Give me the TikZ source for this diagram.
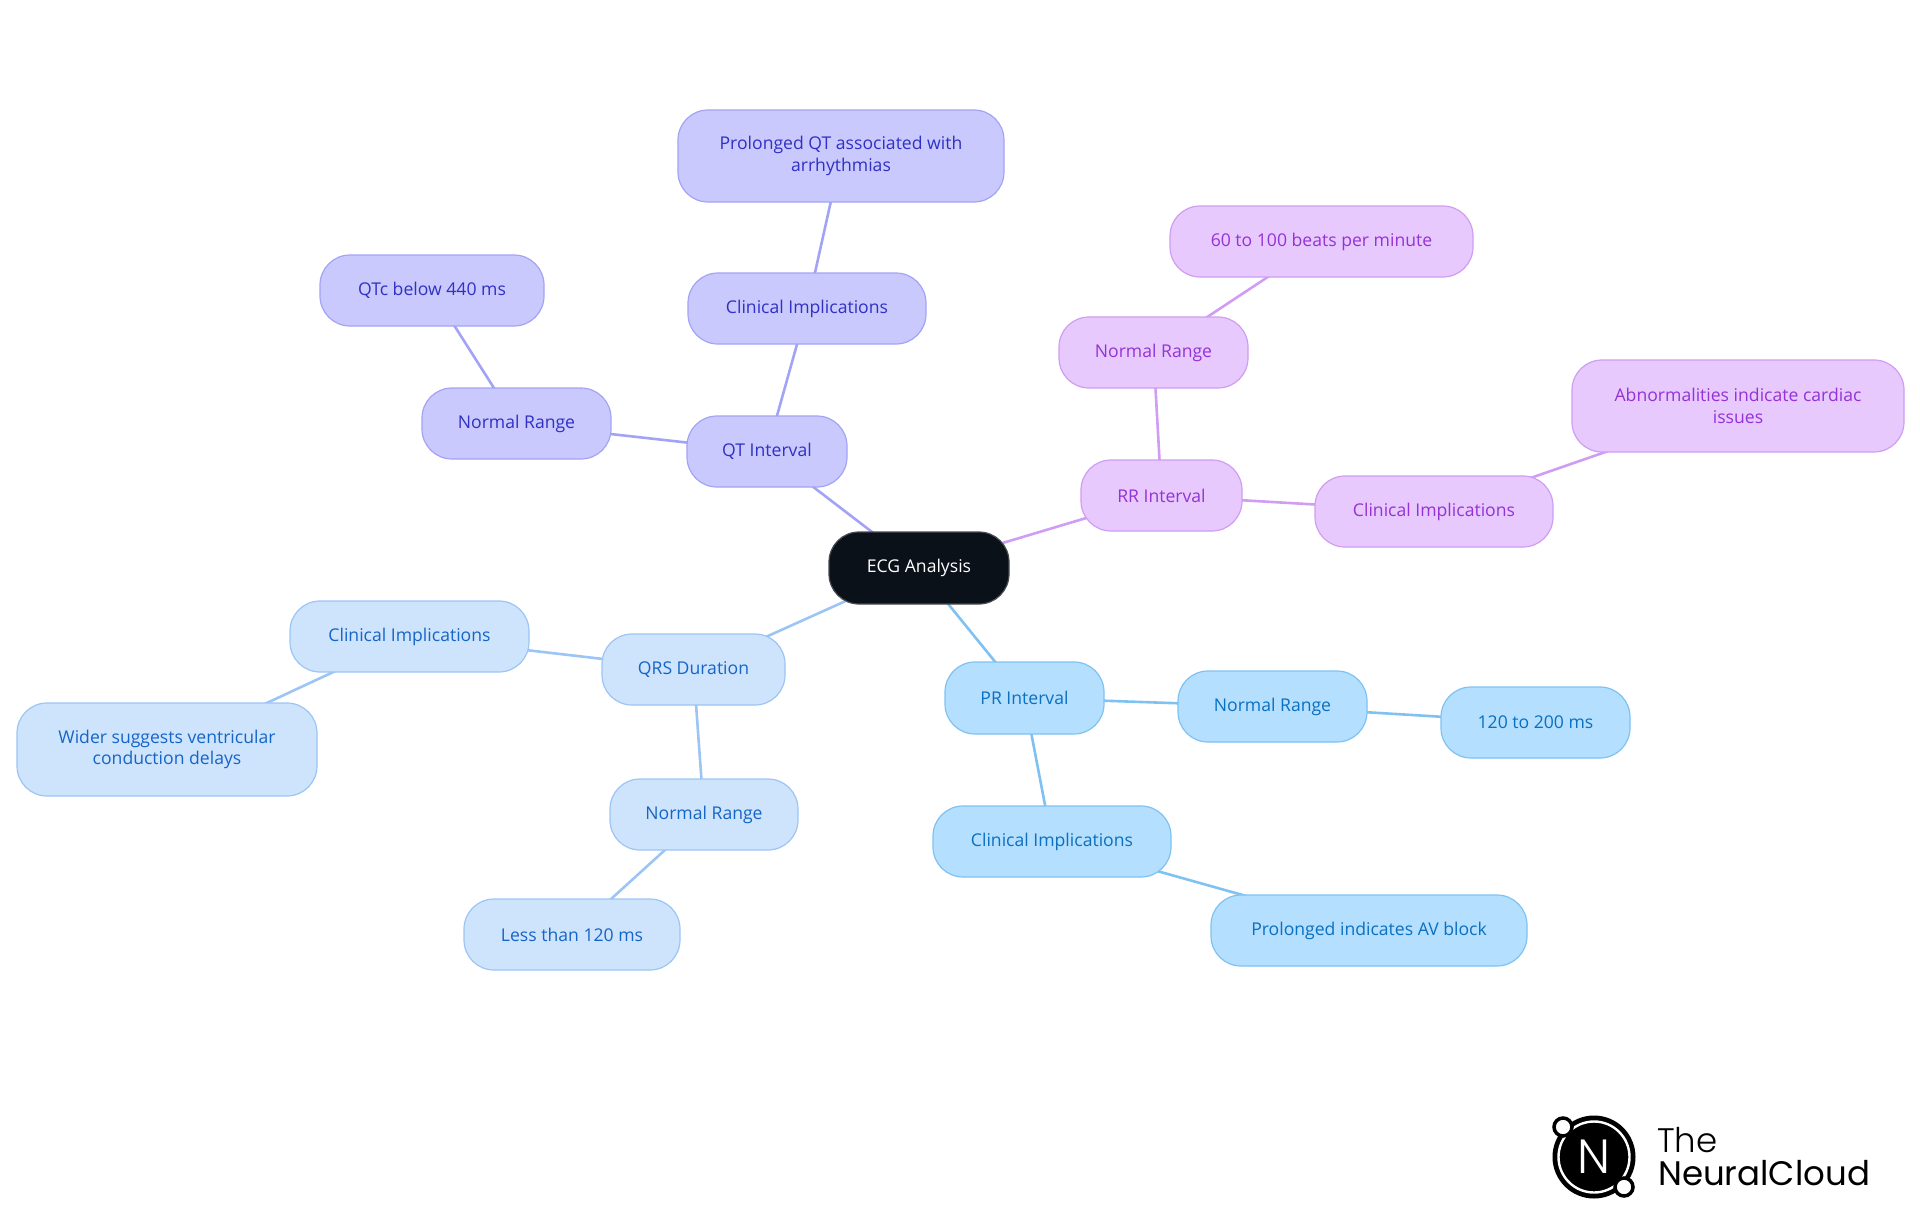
\documentclass[tikz,border=0pt]{standalone}
\usepackage{fontspec}
\setmainfont{Open Sans}
\newfontfamily\logolight{Poppins Light}
\newfontfamily\logoreg{Poppins}
\usetikzlibrary{backgrounds}
\definecolor{prF}{HTML}{B4DFFE}\definecolor{prS}{HTML}{7FC2F2}\definecolor{prT}{HTML}{0B70C0}
\definecolor{qrF}{HTML}{CEE3FC}\definecolor{qrS}{HTML}{9CC5F5}\definecolor{qrT}{HTML}{1565C8}
\definecolor{qtF}{HTML}{C9C9FE}\definecolor{qtS}{HTML}{A3A3F6}\definecolor{qtT}{HTML}{3030C4}
\definecolor{rrF}{HTML}{E8C9FE}\definecolor{rrS}{HTML}{CF9DF2}\definecolor{rrT}{HTML}{9333D6}
\definecolor{rootF}{HTML}{0B1119}
\tikzset{
  x=1pt,y=-1pt,
  box/.style={rounded corners=30pt,inner sep=0pt,align=center,line width=1.2pt,
    font=\fontsize{17.6}{21.5}\selectfont},
  prbox/.style={box,fill=prF,draw=prS,text=prT},
  qrbox/.style={box,fill=qrF,draw=qrS,text=qrT},
  qtbox/.style={box,fill=qtF,draw=qtS,text=qtT},
  rrbox/.style={box,fill=rrF,draw=rrS,text=rrT},
  rootbox/.style={box,fill=rootF,draw=rootF!75!white,text=white},
  edge/.style={line width=2.6pt},
  pr/.style={edge,draw=prS},qr/.style={edge,draw=qrS},qt/.style={edge,draw=qtS},rr/.style={edge,draw=rrS},
}
\newcommand{\nd}[7]{% name,style,x0,x1,y0,y1,text
  \pgfmathsetmacro{\wdd}{#4-#3}\pgfmathsetmacro{\htt}{#6-#5}
  \node[#2,minimum width=\wdd pt,minimum height=\htt pt] (#1) at ({(#3+#4)/2},{(#5+#6)/2}) {#7};}
\newcommand{\ed}[3]{\draw[#1] (#2.center) -- (#3.center);}
\begin{document}
\begin{tikzpicture}
\useasboundingbox (0,0) rectangle (1920,1215);
\nd{root}{rootbox}{829}{1009}{532}{604}{ECG Analysis}
\nd{qt}{qtbox}{687}{847}{416}{487}{QT Interval}
\nd{qtn}{qtbox}{422}{611}{388}{459}{Normal Range}
\nd{qtnv}{qtbox}{320}{544}{255}{326}{QTc below 440 ms}
\nd{qtc}{qtbox}{688}{926}{273}{344}{Clinical Implications}
\nd{qtcv}{qtbox}{678}{1004}{110}{202}{Prolonged QT associated with\\arrhythmias}
\nd{rr}{rrbox}{1081}{1242}{460}{531}{RR Interval}
\nd{rrn}{rrbox}{1059}{1248}{317}{388}{Normal Range}
\nd{rrnv}{rrbox}{1170}{1473}{206}{277}{60 to 100 beats per minute}
\nd{rrc}{rrbox}{1315}{1553}{476}{547}{Clinical Implications}
\nd{rrcv}{rrbox}{1572}{1904}{360}{452}{Abnormalities indicate cardiac\\issues}
\nd{qr}{qrbox}{602}{785}{634}{705}{QRS Duration}
\nd{qrc}{qrbox}{290}{529}{601}{672}{Clinical Implications}
\nd{qrcv}{qrbox}{17}{317}{703}{796}{Wider suggests ventricular\\conduction delays}
\nd{qrn}{qrbox}{610}{798}{779}{850}{Normal Range}
\nd{qrnv}{qrbox}{464}{680}{899}{970}{Less than 120 ms}
\nd{pr}{prbox}{945}{1104}{662}{734}{PR Interval}
\nd{prn}{prbox}{1178}{1367}{671}{742}{Normal Range}
\nd{prnv}{prbox}{1441}{1630}{687}{758}{120 to 200 ms}
\nd{prc}{prbox}{933}{1171}{806}{877}{Clinical Implications}
\nd{prcv}{prbox}{1211}{1527}{895}{966}{Prolonged indicates AV block}
\begin{scope}[on background layer]
\ed{qt}{root}{qt}\ed{qt}{qt}{qtn}\ed{qt}{qtn}{qtnv}\ed{qt}{qt}{qtc}\ed{qt}{qtc}{qtcv}
\ed{rr}{root}{rr}\ed{rr}{rr}{rrn}\ed{rr}{rrn}{rrnv}\ed{rr}{rr}{rrc}\ed{rr}{rrc}{rrcv}
\ed{qr}{root}{qr}\ed{qr}{qr}{qrc}\ed{qr}{qrc}{qrcv}\ed{qr}{qr}{qrn}\ed{qr}{qrn}{qrnv}
\ed{pr}{root}{pr}\ed{pr}{pr}{prn}\ed{pr}{prn}{prnv}\ed{pr}{pr}{prc}\ed{pr}{prc}{prcv}
\end{scope}
% logo
\fill[black] (1594,1157) circle (41.5);
\draw[white,line width=2.4pt] (1594,1157) circle (35.5);
\node[text=white,inner sep=0pt,font=\logolight\fontsize{48}{48}\selectfont] (logoN) at (1594,1157) {N};
\node[circle,fill=white,draw=black,line width=3.5pt,minimum size=18pt,inner sep=0pt] (logoA) at (1563,1127) {};
\node[circle,fill=white,draw=black,line width=3.5pt,minimum size=18pt,inner sep=0pt] (logoB) at (1624,1187) {};
\node[anchor=base west,inner sep=0pt,font=\logolight\fontsize{34}{34}\selectfont] (logoThe) at (1657,1152) {The};
\node[anchor=base west,inner sep=0pt,font=\logoreg\fontsize{34}{34}\selectfont] (logoNC) at (1658,1185) {NeuralCloud};
\end{tikzpicture}
\end{document}
